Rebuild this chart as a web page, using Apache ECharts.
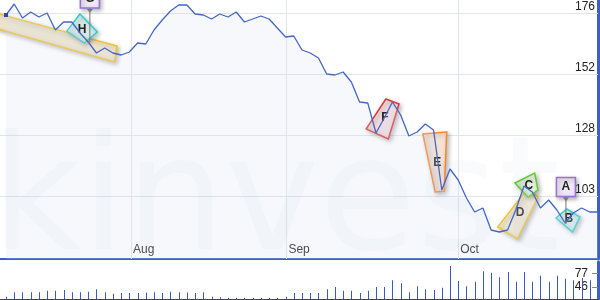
<!DOCTYPE html>
<html><head><meta charset="utf-8">
<script src="https://cdn.jsdelivr.net/npm/echarts@6.0.0/dist/echarts.min.js"></script>
<style>html,body{margin:0;padding:0;background:#fff}#c{width:600px;height:300px}</style>
</head><body><div id="c"></div>
<script>
// ---- data ----
const prices = [175.6,180.0,174.4,176.8,174.8,176.4,169.6,172.8,172.8,168.4,164.8,160.4,162.4,160.4,159.6,160.8,164.4,164.0,169.6,173.6,177.2,179.6,179.6,176.0,175.6,174.0,176.0,174.8,176.8,172.8,174.0,175.2,174.0,170.4,166.8,167.2,161.6,160.4,158.4,152.0,151.6,152.8,148.8,140.8,140.4,128.4,134.4,140.8,135.6,127.2,128.8,132.0,129.6,105.6,114.0,109.6,102.4,96.8,98.4,89.6,88.8,89.6,97.6,107.2,104.8,98.4,101.6,97.6,92.4,96.4,98.4,96.8,96.8];
const volumes = [23,34,34,34,34,37,37,39,34,34,35,41,34,30,32,32,32,33,34,32,35,34,33,32,34,23,22,21,21,21,21,21,21,21,23,32,
                 32,32,32,41,46,37,37,32,37,46,46,62,55,34,48,41,39,44,95,60,48,58,83,79,69,81,58,81,58,72,58,72,65,62,67,62];
const priceTickValues = [176.4, 152.0, 127.6, 103.2];
const priceTickLabels = ['176', '152', '128', '103'];
const volumeTickValues = [77, 46];
const volumeTickLabels = ['77', '46'];
const monthPositions = [15.2, 34.1, 55.0];
const monthLabels = ['Aug', 'Sep', 'Oct'];

// annotation shapes, corners in data coordinates [day index, price]
const annoBand = [[-4.4,179.2],[13.5,163.2],[13.2,156.8],[-4.4,173.2]];
const annoH = [[9.0,176.0],[11.1,168.8],[9.5,164.4],[7.4,169.2]];
const annoF = [[46.2,142.0],[47.8,140.0],[46.5,126.0],[43.8,130.0]];
const annoE = [[50.7,128.0],[53.6,128.8],[53.3,105.2],[52.2,104.8]];
const annoD = [[63.4,106.0],[64.7,102.8],[62.2,86.0],[59.8,90.8]];
const annoC = [[61.9,108.4],[64.3,112.4],[64.7,105.6],[63.5,102.8]];
const annoB = [[66.9,94.4],[68.2,98.0],[69.8,94.8],[68.9,88.8]];
const shapeLetters = ['', 'H', 'F', 'E', 'D', 'C', 'B'];
const shapeCorners = [annoBand, annoH, annoF, annoE, annoD, annoC, annoB];
// flags: [box centre, anchor]
const flagG = [[10.2,182.2],[10.2,164.8]];
const flagA = [[68.1,106.8],[68.1,92.0]];
const flagLetters = ['G', 'A'];
const flagPoints = [flagG, flagA];

// ---- styles ----
const shapeStyles = [
  {stroke:'#f3c230', fill:'rgba(246,234,206,0.85)'},
  {stroke:'#33cccc', fill:'rgba(214,244,244,0.75)'},
  {stroke:'#dd3a3a', fill:'rgba(246,222,224,0.9)'},
  {stroke:'#f7862f', fill:'rgba(250,228,214,0.9)'},
  {stroke:'#f3c230', fill:'rgba(247,236,208,0.9)'},
  {stroke:'#5ccc2e', fill:'rgba(230,245,222,0.9)'},
  {stroke:'#33cccc', fill:'rgba(214,244,244,0.8)'}
];
const FONT = 'Arial, "Liberation Sans", sans-serif';
const shadow = {shadowBlur:4, shadowOffsetX:2, shadowOffsetY:2, shadowColor:'rgba(0,0,0,0.28)'};

const chart = echarts.init(document.getElementById('c'), null, {renderer:'canvas'});
const lineData = prices.map((p,i) => [i, p]);
lineData[0] = {value:[0, prices[0]], symbol:'rect', symbolSize:4, itemStyle:{color:'#2d4b9c'}};

chart.setOption({
  animation:false,
  backgroundColor:'#ffffff',
  graphic:[{
    type:'text', x:-10, y:208, silent:true, z:50,
    style:{text:'kinvest', font:'158px "DejaVu Sans"', fill:'rgba(90,100,140,0.028)', verticalAlign:'middle'}
  }],
  grid:[
    {left:0, right:2, top:0, bottom:41},
    {left:0, right:2, top:262, bottom:1}
  ],
  xAxis:[
    {type:'value', gridIndex:0, min:-0.73, max:72,
     axisLine:{show:true, onZero:false, lineStyle:{color:'#3d5fc2', width:2}},
     axisTick:{show:false}, splitLine:{show:false},
     axisLabel:{show:true, inside:true, customValues:monthPositions,
       formatter:v => monthLabels[monthPositions.indexOf(v)],
       color:'#222', fontSize:12, fontFamily:FONT, align:'left', margin:3, padding:[0,0,0,2]}},
    {type:'value', gridIndex:1, min:-0.73, max:72,
     axisLine:{show:true, onZero:false, lineStyle:{color:'#444', width:1}},
     axisTick:{show:false}, splitLine:{show:false}, axisLabel:{show:false}}
  ],
  yAxis:[
    {type:'value', gridIndex:0, min:78, max:181.6, position:'right',
     axisLine:{show:true, onZero:false, lineStyle:{color:'#3d5fc2', width:3}},
     axisTick:{show:false}, splitLine:{show:false},
     axisLabel:{show:true, inside:true, customValues:priceTickValues,
       formatter:v => priceTickLabels[priceTickValues.indexOf(v)],
       color:'#222', fontSize:12, fontFamily:FONT, verticalAlign:'bottom', margin:3}},
    {type:'value', gridIndex:1, min:18, max:104.3, position:'right',
     axisLine:{show:true, onZero:false, lineStyle:{color:'#3d5fc2', width:3}},
     axisTick:{show:true, inside:true, length:6, customValues:volumeTickValues, lineStyle:{color:'#888'}},
     splitLine:{show:false},
     axisLabel:{show:true, inside:true, customValues:volumeTickValues,
       formatter:v => volumeTickLabels[volumeTickValues.indexOf(v)],
       color:'#222', fontSize:12, fontFamily:FONT, margin:10}}
  ],
  series:[
    {type:'line', xAxisIndex:0, yAxisIndex:0, data:lineData, symbol:'none', z:3,
     lineStyle:{color:'#4467c4', width:1.3},
     areaStyle:{color:'rgba(215,222,240,0.32)', origin:'start'},
     markLine:{silent:true, symbol:'none', z:1, animation:false, label:{show:false},
       lineStyle:{color:'#e2e4eb', width:1, type:'solid'},
       emphasis:{disabled:true},
       data:[...priceTickValues.map(v => ({yAxis:v})), ...monthPositions.map(v => ({xAxis:v}))]}},
    {type:'custom', xAxisIndex:0, yAxisIndex:0, clip:true, z:2, silent:true,
     data: shapeCorners.map(c => c[1]),
     renderItem(params, api){
       const k = params.dataIndex;
       const st = shapeStyles[k];
       const pts = shapeCorners[k].map(p => api.coord(p));
       const cx = pts.reduce((a,p)=>a+p[0],0)/pts.length;
       const cy = pts.reduce((a,p)=>a+p[1],0)/pts.length;
       return {type:'group', children:[
         {type:'polygon', shape:{points:pts}, style:Object.assign({fill:st.fill, stroke:st.stroke, lineWidth:1.5}, shadow)},
         {type:'text', x:cx, y:cy, style:{text:shapeLetters[k], font:'bold 12px ' + FONT, fill:'#222', align:'center', verticalAlign:'middle'}}
       ]};
     }},
    {type:'custom', xAxisIndex:0, yAxisIndex:0, clip:true, z:5, silent:true,
     data: flagPoints.map(f => f[1]),
     renderItem(params, api){
       const k = params.dataIndex;
       const c = api.coord(flagPoints[k][0]);
       const a = api.coord(flagPoints[k][1]);
       const w = 19, h = 19;
       return {type:'group', children:[
         {type:'line', shape:{x1:c[0], y1:c[1]+h/2, x2:a[0], y2:a[1]}, style:{stroke:'#777', lineWidth:1}},
         {type:'polygon', shape:{points:[[c[0]-3,c[1]+h/2+1],[c[0]+3,c[1]+h/2+1],[c[0],c[1]+h/2+5]]}, style:{fill:'#999'}},
         {type:'rect', shape:{x:c[0]-w/2, y:c[1]-h/2, width:w, height:h}, style:Object.assign({fill:'#eee7f6', stroke:'#9b70d2', lineWidth:1.5}, shadow)},
         {type:'text', x:c[0], y:c[1], style:{text:flagLetters[k], font:'bold 12px ' + FONT, fill:'#222', align:'center', verticalAlign:'middle'}}
       ]};
     }},
    {type:'custom', xAxisIndex:1, yAxisIndex:1, clip:true, z:2, silent:true,
     data:volumes.map((v,i)=>[i,v]),
     renderItem(params, api){
       const top = api.coord([api.value(0), api.value(1)]);
       const base = api.coord([api.value(0), 18]);
       const x = Math.round(top[0]);
       return {type:'rect', shape:{x:x, y:top[1], width:1, height:base[1]-top[1]}, style:{fill:'#3659c2'}};
     }}
  ]
});
</script></body></html>
